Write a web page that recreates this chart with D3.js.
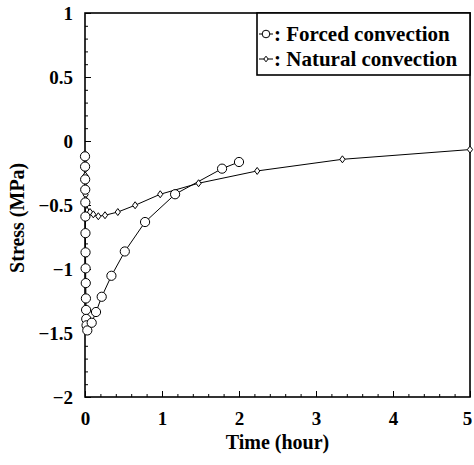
<!DOCTYPE html>
<html>
<head>
  <meta charset="UTF-8" />
  <style>
    body { margin: 0; background: #fff; }
    svg text { font-family: "Liberation Serif", "Times New Roman", serif; font-weight: bold; fill: #000; }
    .axis path { display: none; }
    .axis line { stroke: #000; stroke-width: 1; }
  </style>
  <script src="https://d3js.org/d3.v7.min.js"></script>
</head>
<body>
  <script>
    // forced convection (circles)
    let forcedTime = [0, 0.001, 0.002, 0.003, 0.004, 0.005, 0.006, 0.007, 0.008, 0.01, 0.012, 0.014, 0.016, 0.02, 0.03,
      0.087, 0.143, 0.217, 0.343, 0.517, 0.78, 1.17, 1.78, 2.0];
    let forcedStress = [-0.12, -0.2, -0.3, -0.38, -0.48, -0.59, -0.72, -0.87, -0.995, -1.11, -1.23, -1.32, -1.39, -1.44, -1.48,
      -1.42, -1.336, -1.217, -1.053, -0.863, -0.633, -0.416, -0.216, -0.164];

    // natural convection (diamonds)
    let naturalTime = [0, 0.001, 0.002, 0.003, 0.004, 0.005, 0.006, 0.008, 0.01, 0.013,
      0.065, 0.108, 0.173, 0.26, 0.426, 0.651, 0.977, 1.475, 2.236, 3.343, 5.0];
    let naturalStress = [-0.1, -0.14, -0.18, -0.22, -0.27, -0.32, -0.37, -0.42, -0.46, -0.5,
      -0.555, -0.573, -0.588, -0.58, -0.555, -0.502, -0.416, -0.33, -0.234, -0.143, -0.067];

    let xMajor = [0, 1, 2, 3, 4, 5];
    let yMajor = [1, 0.5, 0, -0.5, -1, -1.5, -2];
    let legendLabels = ["Forced convection", "Natural convection"];

    let W = 474, H = 465;
    let margin = { top: 13, right: 4, bottom: 68, left: 85 };

    let svg = d3.select("body").append("svg")
      .attr("width", W)
      .attr("height", H);

    let x = d3.scaleLinear().domain([0, 5]).range([margin.left, W - margin.right]);
    let y = d3.scaleLinear().domain([-2, 1]).range([H - margin.bottom, margin.top]);

    /* minor + major ticks, pointing inward */
    svg.append("g").attr("class", "axis")
      .attr("transform", `translate(0,${y(-2)})`)
      .call(d3.axisBottom(x).tickValues(d3.range(0, 26).map(i => i / 5)).tickSize(-3).tickFormat(""));
    let xAxis = svg.append("g").attr("class", "axis")
      .attr("transform", `translate(0,${y(-2)})`)
      .call(d3.axisBottom(x).tickValues(xMajor).tickSize(-6).tickPadding(15).tickFormat(d3.format("d")))
      .attr("font-family", null).attr("font-size", 19);
    xAxis.selectAll("text").filter(d => d === 5).attr("dx", -3);

    svg.append("g").attr("class", "axis")
      .attr("transform", `translate(${x(0)},0)`)
      .call(d3.axisLeft(y).tickValues(d3.range(0, 31).map(i => -2 + i / 10)).tickSize(-3).tickFormat(""));
    svg.append("g").attr("class", "axis")
      .attr("transform", `translate(${x(0)},0)`)
      .call(d3.axisLeft(y).tickValues(yMajor).tickSize(-6).tickPadding(12).tickFormat(d3.format("")))
      .attr("font-family", null).attr("font-size", 19);

    /* frame */
    svg.append("rect")
      .attr("x", x(0)).attr("y", y(1))
      .attr("width", x(5) - x(0)).attr("height", y(-2) - y(1))
      .attr("fill", "none").attr("stroke", "#000").attr("stroke-width", 1.6);

    /* axis titles */
    svg.append("text")
      .attr("x", (x(0) + x(5)) / 2).attr("y", 449)
      .attr("text-anchor", "middle").attr("font-size", 20)
      .text("Time (hour)");
    svg.append("text")
      .attr("transform", `translate(24,${y(-0.6)}) rotate(-90)`)
      .attr("text-anchor", "middle").attr("font-size", 20)
      .text("Stress (MPa)");

    let line = d3.line().x(d => x(d[0])).y(d => y(d[1]));
    let forced = forcedTime.map((t, i) => [t, forcedStress[i]]);
    let natural = naturalTime.map((t, i) => [t, naturalStress[i]]);
    let diamond = "M0,-3.5L2.6,0L0,3.5L-2.6,0Z";

    svg.append("path").datum(natural)
      .attr("d", line).attr("fill", "none").attr("stroke", "#000").attr("stroke-width", 1);
    svg.append("path").datum(forced)
      .attr("d", line).attr("fill", "none").attr("stroke", "#000").attr("stroke-width", 1);

    svg.append("g").selectAll("path")
      .data(natural).join("path")
      .attr("d", diamond)
      .attr("transform", d => `translate(${x(d[0])},${y(d[1])})`)
      .attr("fill", "#fff").attr("stroke", "#000").attr("stroke-width", 1);

    svg.append("g").selectAll("circle")
      .data(forced).join("circle")
      .attr("cx", d => x(d[0])).attr("cy", d => y(d[1]))
      .attr("r", 4.6)
      .attr("fill", "#fff").attr("stroke", "#000").attr("stroke-width", 1);

    /* legend */
    let lg = svg.append("g");
    lg.append("rect")
      .attr("x", 257).attr("y", y(1))
      .attr("width", x(5) - 257).attr("height", 62)
      .attr("fill", "#fff").attr("stroke", "#000").attr("stroke-width", 1.6);
    legendLabels.forEach((label, i) => {
      let cy = 34 + i * 25;
      lg.append("line").attr("x1", 259).attr("x2", 273).attr("y1", cy).attr("y2", cy)
        .attr("stroke", "#000").attr("stroke-width", 1);
      if (i === 0) {
        lg.append("circle").attr("cx", 266).attr("cy", cy).attr("r", 3.8)
          .attr("fill", "#fff").attr("stroke", "#000");
      } else {
        lg.append("path").attr("d", "M0,-2.8L2.2,0L0,2.8L-2.2,0Z")
          .attr("transform", `translate(266,${cy})`)
          .attr("fill", "#fff").attr("stroke", "#000");
      }
      lg.append("text").attr("x", 274).attr("y", cy + 7)
        .attr("font-size", 21).text(": " + label);
    });
  </script>
</body>
</html>
